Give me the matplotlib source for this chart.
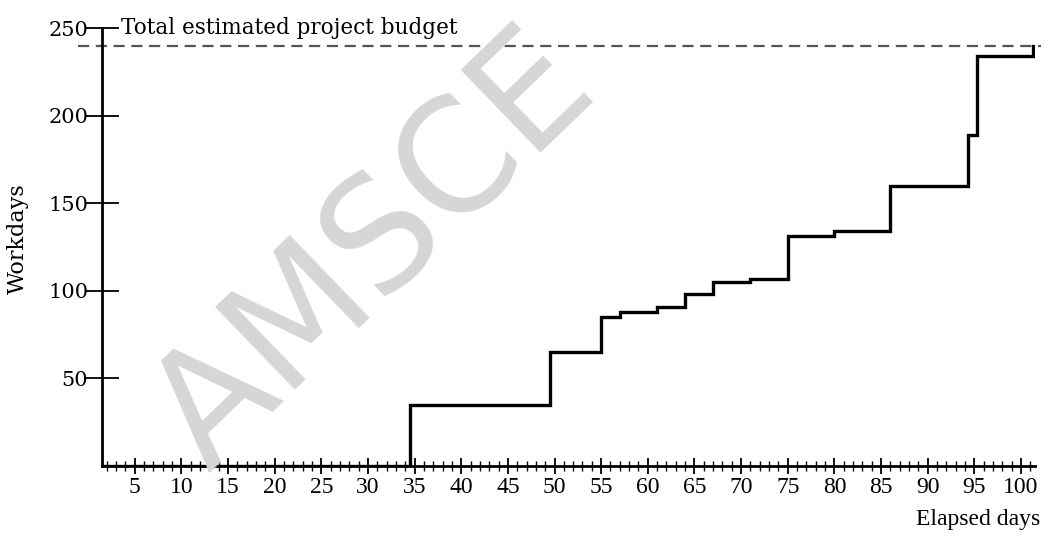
import matplotlib
matplotlib.use("Agg")
import matplotlib.pyplot as plt
from matplotlib.ticker import MultipleLocator, FixedLocator

# Data: cumulative workdays spent vs elapsed days (step changes)
step_days = [1.5, 34.5, 49.5, 55.0, 57.0, 61.0, 64.0, 67.0, 71.0, 75.0, 80.0, 86.0, 94.3, 95.3, 101.3, 101.3]
workdays = [0, 35, 65, 85, 88, 91, 98, 105, 107, 131, 134, 160, 189, 234, 234, 240]
budget = 240
x_tick_labels = [str(v) for v in range(5, 101, 5)]
y_tick_values = [50, 100, 150, 200, 250]

plt.rcParams['font.family'] = ['Liberation Serif', 'DejaVu Serif']

fig = plt.figure(figsize=(10.57, 5.36), dpi=100)
ax = fig.add_axes([102/1057, (536-466)/536, (1035-102)/1057, (466-28)/536])

# watermark
fig.text(375/1057, 1-252/536, "AMSCE", fontsize=112, color='#d6d6d6',
         rotation=44, ha='center', va='center', rotation_mode='anchor',
         family='DejaVu Sans', zorder=0)

ax.set_facecolor('none')
ax.step(step_days, workdays, where='post', color='black', lw=2.4, zorder=3,
        solid_joinstyle='miter')
ax.axhline(budget, xmin=-0.026, xmax=1.006, color='#555555', lw=1.6,
           linestyle=(0, (5, 3)), clip_on=False, zorder=2)

ax.set_xlim(1.5, 101.5)
ax.set_ylim(0, 250)

for s in ['top', 'right']:
    ax.spines[s].set_visible(False)
for s in ['left', 'bottom']:
    ax.spines[s].set_linewidth(2.0)

ax.xaxis.set_major_locator(FixedLocator(list(range(5, 101, 5))))
ax.set_xticklabels(x_tick_labels, fontsize=17)
ax.xaxis.set_minor_locator(MultipleLocator(1))
ax.yaxis.set_major_locator(FixedLocator(y_tick_values))
ax.set_yticklabels([str(v) for v in y_tick_values], family='DejaVu Serif', fontsize=15)

ax.tick_params(axis='x', which='major', direction='inout', length=12, width=1.3, pad=2)
ax.tick_params(axis='x', which='minor', direction='inout', length=7, width=1.0)
ax.tick_params(axis='y', which='major', direction='inout', length=24, width=1.3, pad=-2)

ax.text(3.5, 250, "Total estimated project budget", fontsize=15.5, va='center',
        ha='left', clip_on=False, family='DejaVu Serif')

ax.set_ylabel("Workdays", fontsize=16, family='DejaVu Serif')
ax.yaxis.set_label_coords(-0.078, 0.52)
fig.text(1040/1057, 1-520/536, "Elapsed days", fontsize=17, ha='right', va='center')

fig.savefig("out.png", dpi=100)
